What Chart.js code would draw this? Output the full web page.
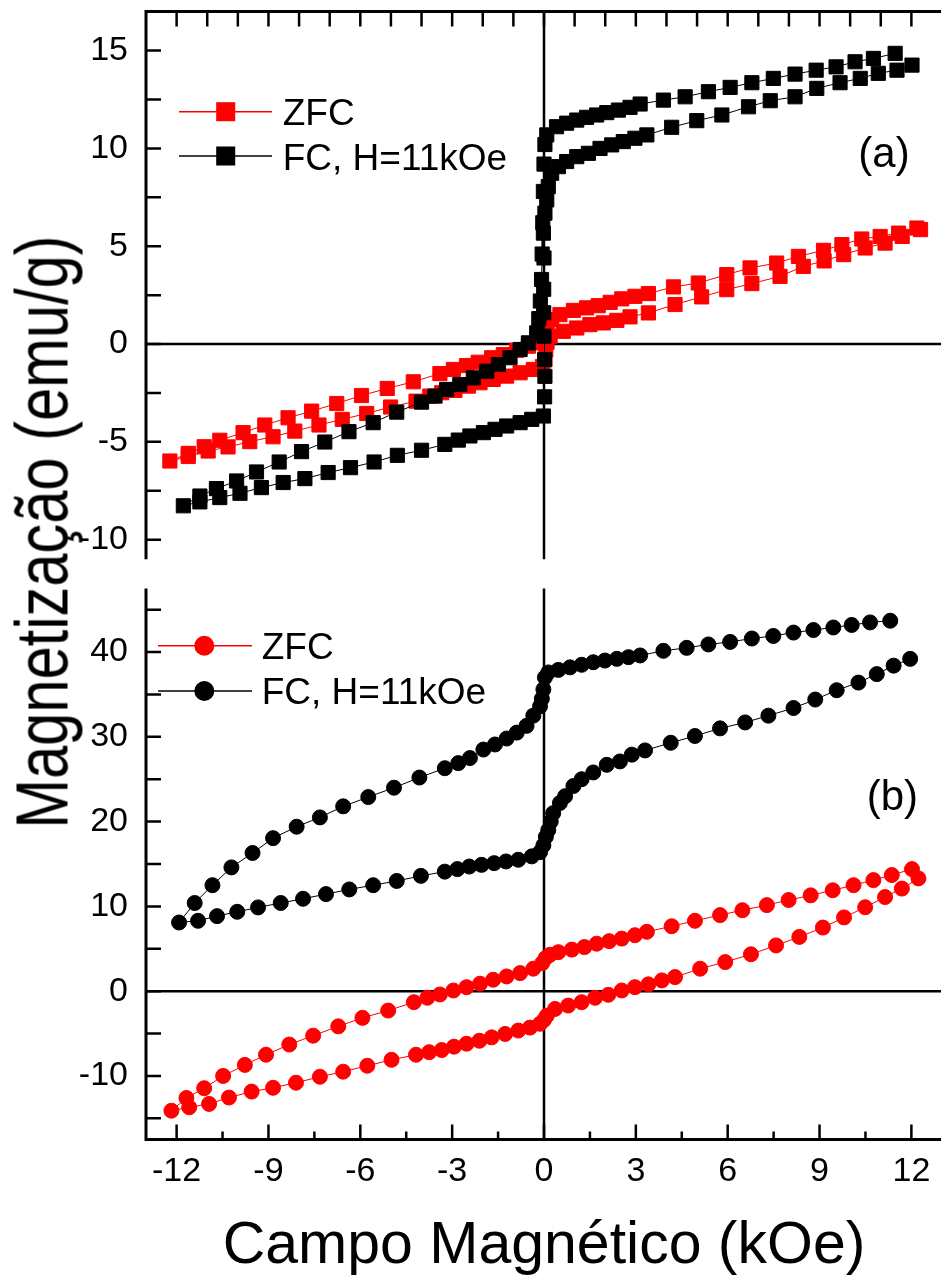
<!DOCTYPE html>
<html>
<head>
<meta charset="utf-8">
<title>Magnetização x Campo</title>
<script src="https://cdn.jsdelivr.net/npm/chart.js@4.4.0/dist/chart.umd.min.js"></script>
<style>
  html, body { margin: 0; padding: 0; background: #fff; overflow: hidden; }
  #wrap { position: relative; width: 941px; height: 1280px; overflow: hidden; }
  canvas { position: absolute; left: 0; }
  #chartA { top: 0; }
  #chartB { top: 572px; }
  #yTitle {
    position: absolute; left: 42px; top: 532px;
    font: 75px "Liberation Sans", Arial, sans-serif; line-height: 75px;
    white-space: nowrap; color: #000;
    transform: translate(-50%, -50%) rotate(-90deg) scaleX(0.795);
  }
</style>
</head>
<body>
<div id="wrap">
  <canvas id="chartA" width="944" height="572"></canvas>
  <canvas id="chartB" width="944" height="708"></canvas>
  <div id="yTitle">Magnetização (emu/g)</div>
</div>
<script>
// ---- data: H (kOe), M (emu/g) ----
// (a) ZFC loop, squares
const zfcA_H = [12.18, 11.58, 10.98, 10.38, 9.73, 9.13, 8.31, 7.6, 6.73, 5.97, 5.04, 4.23, 3.41, 2.97, 2.54, 2.16, 1.77, 1.39, 0.96, 0.52, 0.25, 0.1, 0.03, -0.05, -0.13, -0.51, -0.89, -1.33, -1.71, -2.15, -2.53, -2.96, -3.4, -4.27, -5.12, -5.96, -6.77, -7.59, -8.36, -9.12, -9.83, -10.59, -11.1, -11.62, -12.22,
  -11.62, -10.97, -10.32, -9.61, -8.85, -8.14, -7.35, -6.59, -5.79, -5.01, -4.18, -3.73, -3.34, -2.91, -2.47, -2.09, -1.66, -1.22, -0.78, -0.35, -0.05, 0.03, 0.06, 0.1, 0.2, 0.63, 1.07, 1.5, 1.94, 2.38, 2.81, 3.41, 4.28, 5.15, 5.97, 6.79, 7.71, 8.47, 9.15, 9.79, 10.49, 11.14, 11.7, 12.3];
const zfcA_M = [5.93, 5.67, 5.5, 5.37, 5.08, 4.79, 4.48, 4.14, 3.89, 3.55, 3.12, 2.92, 2.58, 2.44, 2.31, 2.13, 1.96, 1.85, 1.72, 1.5, 1.25, 0.95, 0.6, 0.3, 0.06, -0.11, -0.32, -0.54, -0.7, -0.93, -1.1, -1.3, -1.51, -1.93, -2.27, -2.63, -3.04, -3.43, -3.77, -4.14, -4.53, -4.92, -5.25, -5.59, -5.98,
  -5.75, -5.47, -5.26, -4.99, -4.74, -4.45, -4.14, -3.85, -3.55, -3.22, -2.92, -2.66, -2.49, -2.37, -2.15, -1.98, -1.81, -1.64, -1.47, -1.3, -1.15, -0.8, -0.3, 0.1, 0.4, 0.65, 0.82, 0.99, 1.08, 1.21, 1.39, 1.59, 2.02, 2.41, 2.78, 3.09, 3.46, 3.97, 4.25, 4.57, 4.91, 5.16, 5.5, 5.85];

// (a) FC loop, squares
const fcA_H = [11.47, 10.76, 10.16, 9.54, 8.89, 8.2, 7.49, 6.79, 6.08, 5.37, 4.61, 3.9, 3.14, 2.81, 2.43, 2.05, 1.72, 1.39, 1.07, 0.74, 0.41, 0.09, 0.03, 0.0, -0.02, -0.04, -0.06, -0.08, -0.12, -0.17, -0.24, -0.51, -0.78, -1.11, -1.49, -1.87, -2.31, -2.75, -3.18, -3.56, -4.0, -4.81, -5.58, -6.37, -7.16, -7.92, -8.65, -9.39, -10.04, -10.7, -11.24, -11.78,
  -11.24, -10.59, -9.93, -9.23, -8.52, -7.81, -7.05, -6.32, -5.55, -4.79, -4.0, -3.24, -2.8, -2.42, -1.98, -1.6, -1.22, -0.78, -0.4, -0.02, 0.02, 0.03, 0.02, 0.0, -0.01, -0.01, 0.0, -0.02, 0.03, 0.09, 0.14, 0.25, 0.47, 0.74, 1.07, 1.45, 1.83, 2.21, 2.59, 2.97, 3.36, 4.17, 4.99, 5.81, 6.68, 7.39, 8.2, 8.91, 9.67, 10.33, 10.92, 11.53, 12.02];
const fcA_M = [14.86, 14.6, 14.43, 14.17, 14.0, 13.8, 13.58, 13.36, 13.12, 12.9, 12.64, 12.47, 12.27, 12.1, 11.96, 11.83, 11.71, 11.59, 11.45, 11.29, 11.11, 10.69, 10.2, 9.2, 7.8, 6.2, 4.6, 3.3, 2.2, 1.3, 0.57, 0.06, -0.28, -0.7, -1.05, -1.39, -1.73, -2.07, -2.32, -2.66, -2.97, -3.48, -4.02, -4.48, -5.01, -5.5, -6.03, -6.54, -7.0, -7.39, -7.77, -8.27,
  -8.07, -7.85, -7.63, -7.34, -7.08, -6.88, -6.57, -6.32, -6.03, -5.69, -5.43, -5.13, -4.91, -4.7, -4.53, -4.36, -4.19, -4.02, -3.85, -3.68, -2.7, -1.65, -0.8, 0.4, 1.6, 2.8, 4.4, 5.67, 6.69, 7.37, 8.05, 8.73, 9.07, 9.33, 9.58, 9.75, 10.0, 10.18, 10.35, 10.52, 10.69, 11.08, 11.42, 11.71, 12.13, 12.44, 12.64, 13.07, 13.36, 13.58, 13.84, 14.0, 14.26];

// (b) ZFC loop, circles
const zfcB_H = [12.02, 11.36, 10.76, 10.11, 9.43, 8.71, 7.99, 7.28, 6.48, 5.75, 4.93, 4.17, 3.36, 2.97, 2.54, 2.13, 1.72, 1.32, 0.91, 0.47, 0.2, 0.05, -0.06, -0.35, -0.78, -1.22, -1.66, -2.09, -2.53, -2.96, -3.4, -3.81, -4.25, -5.09, -5.93, -6.72, -7.54, -8.32, -9.08, -9.77, -10.48, -11.1, -11.68, -12.17,
  -11.59, -10.94, -10.29, -9.55, -8.85, -8.1, -7.32, -6.56, -5.77, -4.98, -4.18, -3.75, -3.34, -2.94, -2.53, -2.11, -1.71, -1.27, -0.84, -0.46, -0.13, 0.0, 0.09, 0.36, 0.79, 1.23, 1.67, 2.1, 2.54, 2.97, 3.41, 3.85, 4.28, 5.1, 5.92, 6.76, 7.58, 8.34, 9.11, 9.8, 10.49, 11.14, 11.69, 12.23];
const zfcB_M = [14.4, 13.7, 13.1, 12.5, 11.9, 11.3, 10.75, 10.15, 9.55, 8.97, 8.3, 7.66, 7.0, 6.6, 6.2, 5.9, 5.6, 5.2, 4.9, 4.6, 4.3, 3.9, 3.3, 2.65, 2.13, 1.74, 1.35, 0.88, 0.47, 0.08, -0.39, -0.78, -1.3, -2.29, -3.15, -4.15, -5.25, -6.3, -7.5, -8.7, -10.0, -11.45, -12.6, -14.1,
  -13.7, -13.3, -12.55, -11.85, -11.4, -10.8, -10.1, -9.5, -8.8, -8.1, -7.5, -7.2, -6.95, -6.55, -6.2, -5.85, -5.45, -5.05, -4.65, -4.3, -3.85, -3.4, -2.9, -2.1, -1.7, -1.3, -0.78, -0.43, 0.08, 0.47, 0.8, 1.27, 1.66, 2.65, 3.43, 4.35, 5.4, 6.4, 7.5, 8.7, 9.9, 11.1, 12.1, 13.3];

// (b) FC loop, circles
const fcB_H = [11.31, 10.65, 10.05, 9.45, 8.8, 8.15, 7.49, 6.79, 6.08, 5.37, 4.66, 3.9, 3.14, 2.76, 2.38, 1.99, 1.61, 1.23, 0.85, 0.47, 0.14, 0.03, -0.02, -0.07, -0.13, -0.35, -0.57, -0.89, -1.22, -1.6, -1.98, -2.42, -2.8, -3.24, -4.07, -4.9, -5.74, -6.56, -7.32, -8.08, -8.85, -9.52, -10.21, -10.83, -11.41, -11.92,
  -11.3, -10.68, -10.02, -9.34, -8.6, -7.87, -7.12, -6.36, -5.58, -4.81, -4.02, -3.24, -2.83, -2.44, -2.04, -1.63, -1.24, -0.84, -0.4, -0.13, -0.02, 0.06, 0.14, 0.22, 0.3, 0.52, 0.69, 0.96, 1.23, 1.61, 2.05, 2.48, 2.87, 3.3, 4.14, 4.93, 5.75, 6.57, 7.33, 8.15, 8.86, 9.56, 10.27, 10.87, 11.42, 11.96];
const fcB_M = [43.7, 43.5, 43.2, 42.9, 42.6, 42.3, 41.9, 41.6, 41.2, 40.9, 40.5, 40.15, 39.6, 39.4, 39.2, 39.0, 38.8, 38.5, 38.2, 37.9, 37.6, 37.0, 35.6, 34.5, 33.6, 32.5, 31.3, 30.5, 29.8, 29.1, 28.5, 27.5, 26.9, 26.3, 25.2, 24.0, 22.9, 21.8, 20.5, 19.4, 18.05, 16.3, 14.6, 12.5, 10.4, 8.1,
  8.3, 8.85, 9.36, 9.88, 10.4, 10.9, 11.45, 12.0, 12.5, 13.0, 13.6, 14.1, 14.4, 14.7, 14.9, 15.1, 15.3, 15.5, 15.9, 16.4, 17.2, 18.2, 19.0, 20.0, 21.0, 22.2, 23.0, 24.2, 25.0, 25.8, 26.7, 27.1, 27.9, 28.4, 29.3, 30.1, 31.0, 31.7, 32.5, 33.4, 34.4, 35.5, 36.4, 37.4, 38.4, 39.2];

// ---- axes ----
const xRange = [-13, 13];
const yRangeA = [-11, 17];
const yRangeB = [-17.5, 47.5];
const xTickValues = [-12, -9, -6, -3, 0, 3, 6, 9, 12];
const yTickValuesA = [-10, -5, 0, 5, 10, 15];
const yTickValuesB = [-10, 0, 10, 20, 30, 40];

const FONT = "'Liberation Sans', Arial, Helvetica, sans-serif";
const RED = '#ff0000';
const BLACK = '#000000';

function range(a, b, step) {
  const out = [];
  for (let v = a; v <= b + 1e-9; v += step) out.push(+v.toFixed(3));
  return out;
}

function toPoints(hs, ms) {
  return hs.map((h, i) => ({ x: h, y: ms[i] }));
}

// keep tick labels from adding extra room around the plot area
function noEdgePadding(s) {
  s.paddingTop = 0;
  s.paddingBottom = 0;
  s.paddingLeft = 0;
  s.paddingRight = 0;
}

// border lines, zero lines and inward tick marks
function makeFrame(cfg) {
  return {
    id: 'frame',
    beforeDatasetsDraw(chart) {
      const { ctx, chartArea: a, scales: { x, y } } = chart;
      const x0 = x.getPixelForValue(0);
      const y0 = y.getPixelForValue(0);
      ctx.save();
      ctx.strokeStyle = BLACK;
      ctx.lineWidth = 2.5;
      ctx.beginPath();
      ctx.moveTo(a.left, y0); ctx.lineTo(a.right, y0);
      ctx.moveTo(x0, a.top); ctx.lineTo(x0, a.bottom);
      ctx.stroke();
      ctx.restore();
    },
    afterDatasetsDraw(chart) {
      const { ctx, chartArea: a, scales: { x, y } } = chart;
      ctx.save();
      ctx.strokeStyle = BLACK;
      ctx.lineWidth = 3;
      ctx.beginPath();
      cfg.sides.forEach(side => {
        if (side === 'top') { ctx.moveTo(a.left - 1.5, a.top); ctx.lineTo(a.right, a.top); }
        if (side === 'bottom') { ctx.moveTo(a.left - 1.5, a.bottom); ctx.lineTo(a.right, a.bottom); }
        if (side === 'left') { ctx.moveTo(a.left, a.top); ctx.lineTo(a.left, a.bottom); }
      });
      ctx.stroke();

      ctx.lineWidth = 2.5;
      ctx.beginPath();
      cfg.ticks.forEach(t => {
        t.values.forEach(v => {
          if (t.edge === 'top') {
            const px = x.getPixelForValue(v);
            ctx.moveTo(px, a.top); ctx.lineTo(px, a.top + t.len);
          } else if (t.edge === 'bottom') {
            const px = x.getPixelForValue(v);
            ctx.moveTo(px, a.bottom); ctx.lineTo(px, a.bottom - t.len);
          } else if (t.edge === 'left') {
            const py = y.getPixelForValue(v);
            ctx.moveTo(a.left, py); ctx.lineTo(a.left + t.len, py);
          }
        });
      });
      ctx.stroke();
      ctx.restore();
    }
  };
}

// legend rows (line + marker + text) and the panel tag
function makeLegend(cfg) {
  return {
    id: 'innerLegend',
    afterDraw(chart) {
      const ctx = chart.ctx;
      ctx.save();
      cfg.rows.forEach(r => {
        ctx.strokeStyle = r.color;
        ctx.lineWidth = 1.5;
        ctx.beginPath();
        ctx.moveTo(cfg.lineFrom, r.y); ctx.lineTo(cfg.lineTo, r.y);
        ctx.stroke();
        ctx.fillStyle = r.color;
        if (cfg.marker === 'rect') {
          ctx.fillRect(cfg.markerX - cfg.markerSize / 2, r.y - cfg.markerSize / 2, cfg.markerSize, cfg.markerSize);
        } else {
          ctx.beginPath();
          ctx.arc(cfg.markerX, r.y, cfg.markerSize / 2, 0, Math.PI * 2);
          ctx.fill();
        }
        ctx.fillStyle = BLACK;
        ctx.font = '37px ' + FONT;
        ctx.textBaseline = 'alphabetic';
        ctx.textAlign = 'left';
        ctx.fillText(r.text, cfg.textX, r.baseline);
      });
      ctx.font = '42px ' + FONT;
      ctx.fillStyle = BLACK;
      ctx.fillText(cfg.tag.text, cfg.tag.x, cfg.tag.baseline);
      ctx.restore();
    }
  };
}

function yAxis(rangeArr, tickVals) {
  return {
    type: 'linear',
    min: rangeArr[0],
    max: rangeArr[1],
    afterBuildTicks: s => { s.ticks = tickVals.map(v => ({ value: v })); },
    afterFit: s => { s.width = 146; noEdgePadding(s); },
    grid: { display: false, drawTicks: false },
    border: { display: false },
    ticks: {
      padding: 18,
      color: BLACK,
      font: { family: FONT, size: 34 },
      callback: v => String(v)
    }
  };
}

function lineSet(label, hs, ms, color, style, radius, order) {
  return {
    label: label,
    data: toPoints(hs, ms),
    showLine: true,
    borderColor: color,
    backgroundColor: color,
    borderWidth: 1,
    pointStyle: style,
    pointRadius: radius,
    pointBorderWidth: 1,
    pointBackgroundColor: color,
    pointBorderColor: color,
    order: order
  };
}

const common = {
  responsive: false,
  animation: false,
  events: [],
  plugins: { legend: { display: false }, tooltip: { enabled: false } }
};

// Panel (a)
new Chart(document.getElementById('chartA'), {
  type: 'scatter',
  data: {
    datasets: [
      lineSet('ZFC', zfcA_H, zfcA_M, RED, 'rect', 10, 1),
      lineSet('FC, H=11kOe', fcA_H, fcA_M, BLACK, 'rect', 10, 0)
    ]
  },
  options: {
    ...common,
    layout: { autoPadding: false, padding: { top: 11.5, left: 0, right: 2, bottom: 12.8 } },
    scales: {
      x: { type: 'linear', min: xRange[0], max: xRange[1], display: false, afterFit: noEdgePadding },
      y: yAxis(yRangeA, yTickValuesA)
    }
  },
  plugins: [
    makeFrame({
      sides: ['top', 'left'],
      ticks: [
        { edge: 'top', values: range(-12, 12, 1), len: 15 },
        { edge: 'left', values: range(-10, 15, 2.5), len: 15 }
      ]
    }),
    makeLegend({
      marker: 'rect', markerSize: 19, markerX: 225.7, lineFrom: 179, lineTo: 272, textX: 282.7,
      rows: [
        { text: 'ZFC', color: RED, y: 111.7, baseline: 125 },
        { text: 'FC, H=11kOe', color: BLACK, y: 156, baseline: 170 }
      ],
      tag: { text: '(a)', x: 858.3, baseline: 166.5 }
    })
  ]
});

// Panel (b)
new Chart(document.getElementById('chartB'), {
  type: 'scatter',
  data: {
    datasets: [
      lineSet('ZFC', zfcB_H, zfcB_M, RED, 'circle', 7.5, 1),
      lineSet('FC, H=11kOe', fcB_H, fcB_M, BLACK, 'circle', 7.5, 0)
    ]
  },
  options: {
    ...common,
    layout: { autoPadding: false, padding: { top: 16.5, left: 0, right: 2, bottom: 0 } },
    scales: {
      x: {
        type: 'linear',
        min: xRange[0],
        max: xRange[1],
        afterBuildTicks: s => { s.ticks = xTickValues.map(v => ({ value: v })); },
        afterFit: s => { s.height = 140.5; noEdgePadding(s); },
        grid: { display: false, drawTicks: false },
        border: { display: false },
        ticks: {
          padding: 12,
          color: BLACK,
          autoSkip: false,
          maxRotation: 0,
          font: { family: FONT, size: 34 },
          callback: v => String(v)
        },
        title: {
          display: true,
          text: 'Campo Magnético (kOe)',
          color: BLACK,
          font: { family: FONT, size: 59, lineHeight: 1 },
          padding: { top: 0, bottom: 3.5 }
        }
      },
      y: yAxis(yRangeB, yTickValuesB)
    }
  },
  plugins: [
    makeFrame({
      sides: ['left', 'bottom'],
      ticks: [
        { edge: 'left', values: range(-15, 45, 5), len: 15 },
        { edge: 'bottom', values: range(-12, 12, 3), len: 15 },
        { edge: 'bottom', values: range(-10.5, 10.5, 3), len: 8 }
      ]
    }),
    makeLegend({
      marker: 'circle', markerSize: 20, markerX: 204.3, lineFrom: 158, lineTo: 252, textX: 261.7,
      rows: [
        { text: 'ZFC', color: RED, y: 73.7, baseline: 87 },
        { text: 'FC, H=11kOe', color: BLACK, y: 119, baseline: 132 }
      ],
      tag: { text: '(b)', x: 866.7, baseline: 238 }
    })
  ]
});
</script>
</body>
</html>
